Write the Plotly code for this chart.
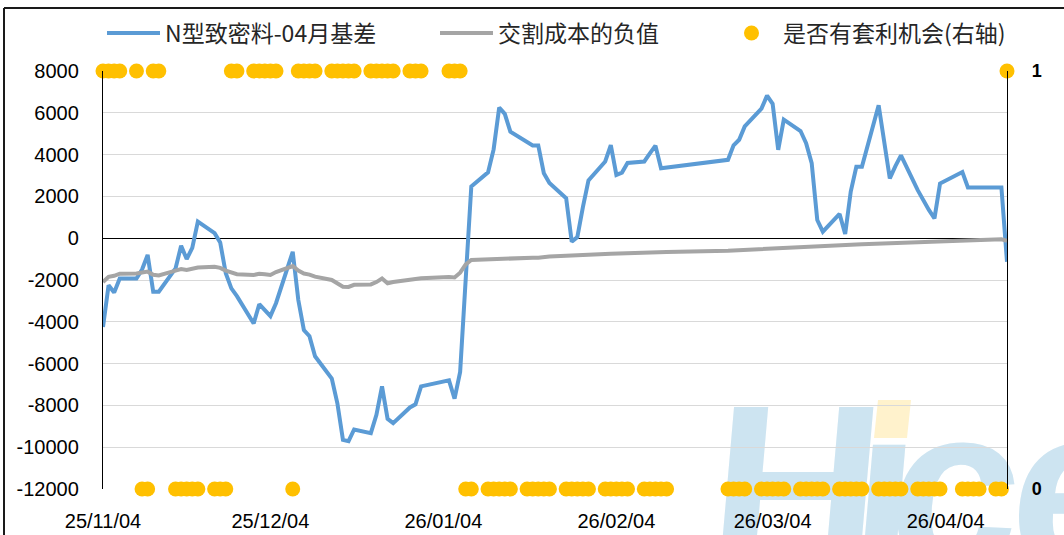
import base64
import plotly.graph_objects as go

# ---------------- data ----------------
month_days = {
    "2025-11": [4, 5, 6, 7, 10, 11, 12, 13, 14, 17, 18, 19, 20, 21, 24, 25, 26, 27, 28],
    "2025-12": [1, 2, 3, 4, 5, 8, 9, 10, 11, 12, 15, 16, 17, 18, 19, 22, 23, 24, 25, 26, 29, 30, 31],
    "2026-01": [5, 6, 7, 8, 9, 12, 13, 14, 15, 16, 19, 20, 21, 22, 23, 26, 27, 28, 29, 30],
    "2026-02": [2, 3, 4, 5, 6, 9, 10, 11, 12, 13, 24, 25, 26, 27],
    "2026-03": [2, 3, 4, 5, 6, 9, 10, 11, 12, 13, 16, 17, 18, 19, 20, 23, 24, 25, 26, 27, 30, 31],
    "2026-04": [1, 2, 3, 7, 8, 9, 10, 13, 14, 15],
}
dates = [f"{m}-{d:02d}" for m, ds in month_days.items() for d in ds]

basis = [
    # Nov
    -4250, -2250, -2600, -1930, -1930, -1500, -800, -2560, -2560, -1450, -360, -1000, -460, 790,
    240, -200, -1680, -2400, -2770,
    # Dec
    -4080, -3160, -3450, -3730, -3110, -650, -2960, -4400, -4690, -5650, -6720, -7900, -9650, -9710,
    -9150, -9330, -8450, -7090, -8640, -8850, -8100, -7950, -7090,
    # Jan
    -6800, -7680, -6400, -1950, 2480, 3150, 4250, 6250, 5950, 5100, 4620, 4440, 4440, 3110, 2640,
    1910, -170, 50, 1490, 2770,
    # Feb
    3670, 4450, 3030, 3140, 3600, 3670, 4060, 4430, 3350, 3380, 3750, 4440, 4710, 5350,
    # Mar
    6200, 6820, 6430, 4230, 5670, 5130, 4550, 3590, 870, 310, 1160, 200, 2230, 3420, 3420, 6360,
    4610, 2860, 3450, 3960, 2300, 1800,
    # Apr
    1350, 950, 2620, 3170, 2430, 2430, 2430, 2430, 2430, -1130,
]

neg_cost = [
    # Nov
    -2100, -1850, -1800, -1700, -1690, -1650, -1600, -1750, -1780, -1550, -1480, -1520, -1450, -1400,
    -1370, -1420, -1550, -1650, -1720,
    # Dec
    -1760, -1700, -1720, -1760, -1620, -1330, -1550, -1690, -1740, -1840, -2000, -2150, -2320, -2330,
    -2230, -2210, -2100, -1930, -2160, -2100, -2010, -1960, -1920,
    # Jan
    -1860, -1880, -1650, -1250, -1040, -1000, -990, -985, -970, -965, -950, -935, -930, -900, -880,
    -840, -835, -800, -790, -775,
    # Feb
    -760, -745, -735, -720, -715, -700, -690, -680, -665, -660, -600, -585, -575, -560,
    # Mar
    -520, -505, -495, -470, -465, -440, -420, -410, -395, -380, -350, -330, -320, -300, -295, -270,
    -255, -240, -230, -220, -200, -190,
    # Apr
    -175, -165, -150, -130, -120, -105, -95, -70, -55, -130,
]

arb_flag = (
    [1, 1, 1, 1, 1, 0, 0, 1, 1, 0, 0, 0, 0, 0, 0, 0, 0, 1, 1]
    + [1, 1, 1, 1, 1, 0, 1, 1, 1, 1, 1, 1, 1, 1, 1, 1, 1, 1, 1, 1, 1, 1, 1]
    + [1, 1, 1, 0, 0, 0, 0, 0, 0, 0, 0, 0, 0, 0, 0, 0, 0, 0, 0, 0]
    + [0] * 14
    + [0] * 22
    + [0, 0, 0, 0, 0, 0, 0, 0, 0, 1]
)

x_tick_vals = ["2025-11-04", "2025-12-04", "2026-01-04", "2026-02-04", "2026-03-04", "2026-04-04"]
x_tick_text = ["25/11/04", "25/12/04", "26/01/04", "26/02/04", "26/03/04", "26/04/04"]
y_ticks = [8000, 6000, 4000, 2000, 0, -2000, -4000, -6000, -8000, -10000, -12000]
y_tick_text = ["8000", "6000", "4000", "2000", "0", "-2000", "-4000", "-6000", "-8000", "-10000", "-12000"]
y2_ticks = [0, 1]
y2_tick_text = ["0", "1"]

names = ["N型致密料-04月基差", "交割成本的负值", "是否有套利机会(右轴)"]

# ---------------- figure ----------------
W, H = 1064, 535
L, R, T, B = 103, 57, 71, 46
pw, ph = W - L - R, H - T - B

def px_x(p):
    return (p - L) / pw

def px_y(p):
    return (H - B - p) / ph

fig = go.Figure()
fig.add_trace(go.Scatter(
    x=dates, y=basis, name=names[0], mode="lines",
    line=dict(color="#5B9BD5", width=4), legend="legend",
))
fig.add_trace(go.Scatter(
    x=dates, y=neg_cost, name=names[1], mode="lines",
    line=dict(color="#A5A5A5", width=4), legend="legend2",
))
fig.add_trace(go.Scatter(
    x=dates, y=arb_flag, name=names[2], mode="markers", yaxis="y2",
    marker=dict(color="#FFC000", size=15), cliponaxis=False, legend="legend3",
))

cjk = "Noto Sans CJK SC, Microsoft YaHei, sans-serif"
num_font = "Liberation Sans Narrow, Arial Narrow, Liberation Sans, Arial, sans-serif"

legend_common = dict(
    orientation="h", yanchor="middle", y=px_y(33), xanchor="left",
    font=dict(family=cjk, size=23, color="#262626"),
    bgcolor="rgba(0,0,0,0)", itemwidth=53, borderwidth=0,
)

# watermark logo (image layer below the grid)
svg = (
    '<svg xmlns="http://www.w3.org/2000/svg" width="364" height="155" viewBox="0 0 364 155">'
    '<g transform="translate(4,190) skewX(-5)">'
    '<text x="0" y="0" font-family="Liberation Sans, Arial, sans-serif" font-weight="bold" '
    'font-size="237" fill="#CDE4F1"><tspan>H</tspan><tspan dx="-30">&#305;</tspan>'
    '<tspan dx="-28">c</tspan><tspan dx="-10">e</tspan></text></g>'
    '<polygon points="174,58 178,20 211,20 207,58" fill="#FFF2CC"/>'
    '</svg>'
)
svg_uri = "data:image/svg+xml;base64," + base64.b64encode(svg.encode("utf-8")).decode()

fig.update_layout(
    width=W, height=H,
    margin=dict(l=L, r=R, t=T, b=B, autoexpand=False),
    paper_bgcolor="white", plot_bgcolor="rgba(0,0,0,0)",
    showlegend=True,
    legend=dict(legend_common, x=px_x(102)),
    legend2=dict(legend_common, x=px_x(435)),
    legend3=dict(legend_common, x=px_x(720)),
    xaxis=dict(
        type="date", range=["2025-11-04", "2026-04-15"],
        tickvals=x_tick_vals, ticktext=x_tick_text,
        showgrid=False, zeroline=False, showline=False, ticks="",
        tickfont=dict(family=num_font, size=20, color="#000000"),
        ticklabelstandoff=18,
    ),
    yaxis=dict(
        range=[-12000, 8000], tickvals=y_ticks, ticktext=y_tick_text,
        showgrid=True, gridcolor="#D9D9D9", gridwidth=1.3,
        zeroline=True, zerolinecolor="#000000", zerolinewidth=1.3,
        showline=True, linecolor="#000000", linewidth=1.3, ticks="",
        tickfont=dict(family=num_font, size=20, color="#000000"),
        ticklabelstandoff=19,
    ),
    yaxis2=dict(
        overlaying="y", side="right", range=[0, 1], tickvals=y2_ticks, ticktext=y2_tick_text,
        showgrid=False, zeroline=False,
        showline=True, linecolor="#000000", linewidth=1.3, ticks="",
        tickfont=dict(family="Liberation Sans, Arial, sans-serif", size=18, color="#000000", weight="bold"),
        ticklabelstandoff=20,
    ),
    images=[dict(
        source=svg_uri, xref="paper", yref="paper",
        x=px_x(700), y=px_y(380), sizex=364 / pw, sizey=155 / ph,
        xanchor="left", yanchor="top", sizing="stretch", layer="below",
    )],
    shapes=[
        dict(type="line", xref="paper", yref="paper", x0=px_x(4), x1=px_x(W + 5),
             y0=px_y(8), y1=px_y(8), line=dict(color="#1a1a1a", width=2)),
        dict(type="line", xref="paper", yref="paper", x0=px_x(4), x1=px_x(4),
             y0=px_y(8), y1=px_y(H + 5), line=dict(color="#1a1a1a", width=2)),
    ],
)

fig.write_html(
    "out.html",
    config={"displayModeBar": False},
    post_script="document.body.style.margin='0';",
)
